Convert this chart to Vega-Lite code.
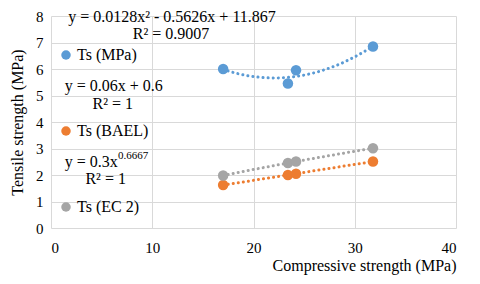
{
  "$schema": "https://vega.github.io/schema/vega-lite/v6.json",
  "width": 405,
  "height": 212,
  "autosize": {"type": "none"},
  "padding": {"left": 51, "top": 16, "right": 24, "bottom": 56},
  "background": "white",
  "config": {
    "font": "Liberation Serif",
    "view": {"stroke": null},
    "axis": {
      "labelFont": "Liberation Serif", "titleFont": "Liberation Serif",
      "labelFontSize": 15, "labelColor": "#000", "labelOverlap": false,
      "titleFontSize": 16, "titleFontWeight": "normal", "titleColor": "#000",
      "gridColor": "#d9d9d9", "domain": false, "ticks": false
    },
    "legend": {"labelFont": "Liberation Serif", "titleFont": "Liberation Serif"},
    "text": {"font": "Liberation Serif"}
  },
  "datasets": {
    "pts": [
      {"Cs": 17.0, "Ts": 6.0, "series": "Ts (MPa)"},
      {"Cs": 23.4, "Ts": 5.45, "series": "Ts (MPa)"},
      {"Cs": 24.2, "Ts": 5.95, "series": "Ts (MPa)"},
      {"Cs": 31.8, "Ts": 6.85, "series": "Ts (MPa)"},
      {"Cs": 17.0, "Ts": 1.62, "series": "Ts (BAEL)"},
      {"Cs": 23.4, "Ts": 2.0, "series": "Ts (BAEL)"},
      {"Cs": 24.2, "Ts": 2.05, "series": "Ts (BAEL)"},
      {"Cs": 31.8, "Ts": 2.51, "series": "Ts (BAEL)"},
      {"Cs": 17.0, "Ts": 1.98, "series": "Ts (EC 2)"},
      {"Cs": 23.4, "Ts": 2.45, "series": "Ts (EC 2)"},
      {"Cs": 24.2, "Ts": 2.51, "series": "Ts (EC 2)"},
      {"Cs": 31.8, "Ts": 3.01, "series": "Ts (EC 2)"}
    ],
    "eqc": [
      {"Cs": 11.95, "Ts": 7.96, "label": "y = 0.0128x² - 0.5626x + 11.867"},
      {"Cs": 11.85, "Ts": 7.32, "label": "R² = 0.9007"},
      {"Cs": 6.2, "Ts": 5.36, "label": "y = 0.06x + 0.6"},
      {"Cs": 6.1, "Ts": 4.68, "label": "R² = 1"},
      {"Cs": 5.4, "Ts": 1.85, "label": "R² = 1"}
    ],
    "eqr": [{"Cs": 6.6, "Ts": 2.49, "label": "y = 0.3x"}],
    "eqs": [{"Cs": 6.62, "Ts": 2.7, "label": "0.6667"}]
  },
  "encoding": {
    "x": {
      "field": "Cs", "type": "quantitative",
      "scale": {"domain": [0, 40], "nice": false},
      "axis": {
        "values": [0, 10, 20, 30, 40],
        "title": "Compressive strength (MPa)",
        "titleAnchor": "end",
        "titlePadding": 2,
        "labelPadding": 12
      }
    },
    "y": {
      "field": "Ts", "type": "quantitative",
      "scale": {"domain": [0, 8], "nice": false},
      "axis": {
        "tickCount": 9,
        "labelSeparation": 0,
        "labelOverlap": false,
        "title": "Tensile strength (MPa)",
        "titlePadding": 10,
        "labelPadding": 8
      }
    }
  },
  "layer": [
    {
      "data": {"name": "pts"},
      "transform": [
        {"filter": "datum.series === 'Ts (MPa)'"},
        {"regression": "Ts", "on": "Cs", "method": "poly", "order": 2}
      ],
      "mark": {"type": "line", "strokeDash": [0.1, 5], "strokeCap": "round", "strokeWidth": 3, "color": "#5B9BD5"}
    },
    {
      "data": {"name": "pts"},
      "transform": [
        {"filter": "datum.series === 'Ts (BAEL)'"},
        {"regression": "Ts", "on": "Cs", "method": "linear"}
      ],
      "mark": {"type": "line", "strokeDash": [0.1, 5], "strokeCap": "round", "strokeWidth": 3, "color": "#ED7D31"}
    },
    {
      "data": {"name": "pts"},
      "transform": [
        {"filter": "datum.series === 'Ts (EC 2)'"},
        {"regression": "Ts", "on": "Cs", "method": "pow"}
      ],
      "mark": {"type": "line", "strokeDash": [0.1, 5], "strokeCap": "round", "strokeWidth": 3, "color": "#A5A5A5"}
    },
    {
      "data": {"name": "pts"},
      "mark": {"type": "circle", "size": 110, "opacity": 1},
      "encoding": {
        "color": {
          "field": "series", "type": "nominal",
          "scale": {"domain": ["Ts (MPa)", "Ts (BAEL)", "Ts (EC 2)"], "range": ["#5B9BD5", "#ED7D31", "#A5A5A5"]},
          "legend": {
            "orient": "none", "legendX": 7, "legendY": 31, "title": null,
            "labelFont": "Liberation Serif",
            "labelFontSize": 16, "labelColor": "#000", "symbolSize": 90, "symbolType": "circle",
            "rowPadding": 60, "labelOffset": 3
          }
        }
      }
    },
    {
      "data": {"name": "eqc"},
      "mark": {"type": "text", "font": "Liberation Serif", "fontSize": 16, "align": "center", "baseline": "middle", "color": "#000"},
      "encoding": {"text": {"field": "label"}}
    },
    {
      "data": {"name": "eqr"},
      "mark": {"type": "text", "font": "Liberation Serif", "fontSize": 16, "align": "right", "baseline": "middle", "color": "#000"},
      "encoding": {"text": {"field": "label"}}
    },
    {
      "data": {"name": "eqs"},
      "mark": {"type": "text", "font": "Liberation Serif", "fontSize": 11, "align": "left", "baseline": "middle", "color": "#000"},
      "encoding": {"text": {"field": "label"}}
    }
  ]
}
